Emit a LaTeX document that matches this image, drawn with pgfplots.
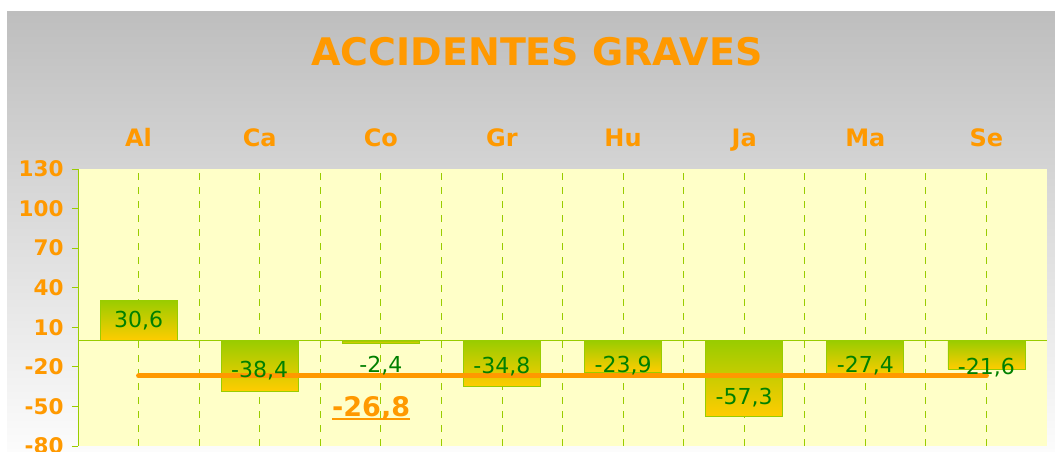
\documentclass[border=0pt]{standalone}
\usepackage{pgfplots}
\pgfplotsset{compat=1.18}
\usepackage{pgfplotstable}
\usepackage{fontspec}
\setmainfont{DejaVu Sans}
\definecolor{org}{HTML}{FF9900}
\definecolor{grn}{HTML}{99CC00}
\definecolor{gtxt}{HTML}{008000}
\definecolor{gold}{HTML}{FFCC00}
\definecolor{ybg}{HTML}{FFFFC8}
\pgfplotstableread{
x y ly lab
0 30.6 14.8 30,6
1 -38.4 -23.1 -38,4
2 -2.4 -19.3 -2,4
3 -34.8 -20.1 -34,8
4 -23.9 -19.3 -23,9
5 -57.3 -43.6 -57,3
6 -27.4 -19.3 -27,4
7 -21.6 -20.8 -21,6
}\data
\begin{document}
\begin{tikzpicture}[x=1pt,y=1pt]
\useasboundingbox (0,0) rectangle (1055,452);
\fill[white] (0,0) rectangle (1055,452);
\shade[top color={rgb,255:red,190;green,190;blue,190}, bottom color={rgb,255:red,252;green,252;blue,252}] (7,0) rectangle (1055,440);
\node[font=\bfseries\fontsize{38}{40}\selectfont, text=org] at (537,400) {ACCIDENTES GRAVES};
\begin{axis}[
  at={(78pt,6pt)}, anchor=south west,
  scale only axis, width=969pt, height=277pt,
  xmin=-0.5, xmax=7.5, ymin=-80, ymax=130,
  axis background/.style={fill=ybg},
  axis y line*=left, axis x line*=top,
  x axis line style={draw=none},
  y axis line style={draw=grn, line width=1pt, -},
  xtick={0,...,7},
  xticklabels={Al,Ca,Co,Gr,Hu,Ja,Ma,Se},
  xticklabel pos=right,
  xticklabel style={anchor=base, font=\bfseries\fontsize{24}{26}\selectfont, text=org},
  xticklabel shift=16pt,
  minor xtick={0.5,1.5,...,6.5},
  xmajorgrids, xminorgrids,
  major x tick style={draw=none}, minor x tick style={draw=none},
  grid style={dashed, grn, line width=0.8pt, dash pattern=on 7pt off 7pt},
  minor grid style={dashed, grn, line width=0.8pt, dash pattern=on 7pt off 7pt},
  ytick={-80,-50,-20,10,40,70,100,130},
  yticklabels={-80,-50,-20,10,40,70,100,130},
  yticklabel style={font=\bfseries\fontsize{21.5}{23}\selectfont, text=org, xshift=-5pt},
  y tick style={draw=grn, line width=0.8pt},
  tick align=outside, major tick length=6pt,
  clip=false,
]
\pgfplotsset{barsty/.style={ybar, bar width=0.635, bar shift=0pt, draw=grn, line width=0.8pt, top color=grn, bottom color=gold}}
\addplot[barsty] coordinates {(0,30.6)};
\addplot[barsty] coordinates {(1,-38.4)};
\addplot[barsty] coordinates {(2,-2.4)};
\addplot[barsty] coordinates {(3,-34.8)};
\addplot[barsty] coordinates {(4,-23.9)};
\addplot[barsty] coordinates {(5,-57.3)};
\addplot[barsty] coordinates {(6,-27.4)};
\addplot[barsty] coordinates {(7,-21.6)};
\addplot[grn, line width=1pt] coordinates {(-0.5,0) (7.5,0)};
\addplot[org, line width=5pt, line cap=round] coordinates {(0,-26.8) (7,-26.8)};
\addplot[only marks, mark=none, point meta=explicit symbolic, nodes near coords,
  every node near coord/.append style={anchor=center, text=gtxt, font=\fontsize{22}{24}\selectfont}]
  table[x=x,y=ly,meta=lab]{\data};
\node[text=org, font=\bfseries\fontsize{27}{29}\selectfont, inner sep=0pt] (avg) at (axis cs:1.92,-51.2) {-26,8};
\draw[org, line width=2.5pt] ([yshift=-3pt]avg.base west) -- ([yshift=-3pt]avg.base east);
\end{axis}
\end{tikzpicture}
\end{document}
